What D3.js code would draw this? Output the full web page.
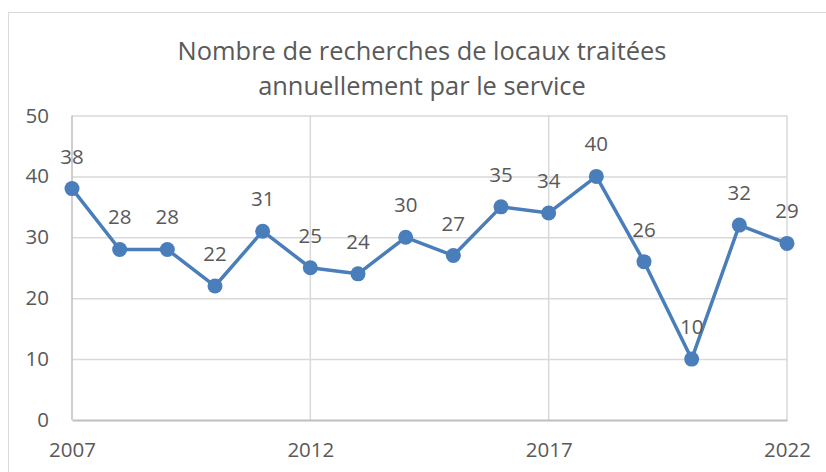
<!DOCTYPE html>
<html>
<head>
<meta charset="utf-8">
<script src="https://cdn.jsdelivr.net/npm/d3@7"></script>
<style>
  body { margin: 0; background: #fff; }
  text { font-family: "Open Sans", "Liberation Sans", sans-serif; fill: #595959; }
</style>
</head>
<body>
<svg class="chart" width="826" height="472"></svg>
<script>
// data
const years = [2007, 2008, 2009, 2010, 2011, 2012, 2013, 2014, 2015, 2016, 2017, 2018, 2019, 2020, 2021, 2022];
const values = [38, 28, 28, 22, 31, 25, 24, 30, 27, 35, 34, 40, 26, 10, 32, 29];
const yTicks = [0, 10, 20, 30, 40, 50];
const xTicks = [2007, 2012, 2017, 2022];
const titleLines = ["Nombre de recherches de locaux traitées", "annuellement par le service"];

const svg = d3.select(".chart");

let plotLeft = 72, plotRight = 787, plotTop = 115.5, plotBottom = 420;
let labelSize = "20.5px";

// chart border (runs off the right/bottom of the picture)
svg.append("rect")
  .attr("x", 8.5).attr("y", 12.5)
  .attr("width", 840).attr("height", 480)
  .attr("fill", "none")
  .attr("stroke", "#d9d9d9")
  .attr("stroke-width", 1);

// title
const title = svg.append("g");
titleLines.forEach((t, i) => {
  title.append("text")
    .attr("x", 422)
    .attr("y", 60 + i * 35)
    .attr("text-anchor", "middle")
    .style("font-size", "24px")
    .text(t);
});
// fit the first line to the width seen in the reference
const t0 = title.select("text").node();
const w = t0.getComputedTextLength();
const fs = 24 * 489 / w;
title.selectAll("text").style("font-size", fs + "px");

var xScale = d3.scaleLinear().domain([2007, 2022]).range([plotLeft, plotRight]);
var yScale = d3.scaleLinear().domain([0, 50]).range([plotBottom, plotTop]);

// horizontal grid
svg.append("g")
  .selectAll("line")
  .data(yTicks.filter((d) => d > 0))
  .enter()
  .append("line")
  .attr("x1", plotLeft).attr("x2", plotRight)
  .attr("y1", (d) => yScale(d) + 0.5).attr("y2", (d) => yScale(d) + 0.5)
  .attr("stroke", "#d9d9d9")
  .attr("stroke-width", 1.5);

// vertical grid
svg.append("g")
  .selectAll("line")
  .data(xTicks)
  .enter()
  .append("line")
  .attr("x1", (d) => xScale(d)).attr("x2", (d) => xScale(d))
  .attr("y1", plotTop).attr("y2", plotBottom)
  .attr("stroke", (d) => (d == 2007 ? "#bfbfbf" : "#d9d9d9"))
  .attr("stroke-width", 1.5);

// x axis
const xAxis = d3.axisBottom(xScale).tickValues(xTicks).tickFormat((d) => d).tickSize(0).tickPadding(22);
const gx = svg.append("g")
  .attr("transform", `translate(0,${plotBottom})`)
  .call(xAxis);
gx.select(".domain").attr("stroke", "#bfbfbf").attr("stroke-width", 2);
gx.selectAll("text").style("font-size", labelSize).attr("fill", "#595959");

// y axis
const yAxis = d3.axisLeft(yScale).tickValues(yTicks).tickSize(0).tickPadding(23);
const gy = svg.append("g")
  .attr("transform", `translate(${plotLeft},0)`)
  .call(yAxis);
gy.select(".domain").remove();
gy.selectAll("text").style("font-size", labelSize).attr("fill", "#595959");

// line
const pts = years.map((y, i) => ({ year: y, value: values[i] }));
svg.append("path")
  .datum(pts)
  .attr("fill", "none")
  .attr("stroke", "#4a7ebb")
  .attr("stroke-width", 3.5)
  .attr("stroke-linejoin", "round")
  .attr("d", d3.line().x((d) => xScale(d.year)).y((d) => yScale(d.value)));

svg.append("g")
  .selectAll("circle")
  .data(pts)
  .enter()
  .append("circle")
  .attr("r", 7.5)
  .attr("cx", (d) => xScale(d.year))
  .attr("cy", (d) => yScale(d.value))
  .attr("fill", "#4a7ebb");

// data labels
svg.append("g")
  .selectAll("text")
  .data(pts)
  .enter()
  .append("text")
  .attr("x", (d) => xScale(d.year))
  .attr("y", (d) => yScale(d.value) - 25)
  .attr("text-anchor", "middle")
  .style("font-size", labelSize)
  .text((d) => d.value);
</script>
</body>
</html>
